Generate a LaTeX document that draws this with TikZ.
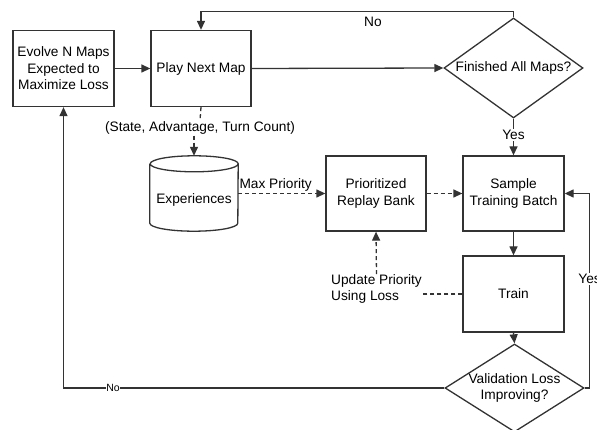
\documentclass[tikz,border=0pt]{standalone}
\usepackage{fontspec}
\setmainfont{Liberation Sans}
\usetikzlibrary{shapes.geometric,arrows.meta}
\definecolor{ln}{HTML}{333333}
\begin{document}
\begin{tikzpicture}[x=1pt,y=-1pt,
  font=\fontsize{13.7}{16.5}\selectfont,
  box/.style={draw=ln, line width=1.3pt, minimum width=101pt, minimum height=76pt, align=center, inner sep=0pt},
  dia/.style={draw=ln, line width=1.3pt, diamond, inner sep=0pt},
  plain/.style={draw=ln, line width=1.3pt},
  conn/.style={plain, -{Triangle[length=9pt,width=8pt]}},
  dsh/.style={dash pattern=on 4pt off 3pt},
  lbl/.style={fill=white, inner sep=1pt},
  small/.style={font=\fontsize{10.5}{12}\selectfont}]
\useasboundingbox (0,0) rectangle (597,430);

% nodes
\node[box] (evolve) at (63.5,68.5) {Evolve N Maps\\Expected to\\Maximize Loss};
\node[box, minimum width=100pt] (play) at (201,68.5) {Play Next Map};
\node[dia, minimum width=139pt, minimum height=100pt] (fin) at (513.5,68) {\makebox[0pt]{Finished All Maps?}};
\node[minimum width=88pt, minimum height=75pt, inner sep=0pt, text height=24pt, text depth=3pt] (exp) at (194,193.5) {Experiences};
\node[box, minimum width=100pt, minimum height=75pt] (replay) at (376,193.5) {Prioritized\\Replay Bank};
\node[box, minimum height=75pt] (sample) at (513.5,193.5) {Sample\\Training Batch};
\node[box] (train) at (513.5,294) {Train};
\node[dia, minimum width=139pt, minimum height=88pt] (val) at (514.5,388) {\makebox[0pt]{\begin{tabular}{@{}c@{}}Validation Loss\\[-1pt]Improving?\end{tabular}}};
\node[lbl] (sacl) at (200,128) {(State, Advantage, Turn Count)};
\node[align=left, inner sep=0pt] (upd) at (376.5,289) {Update Priority\\Using Loss};

% cylinder outline
\draw[plain] ([yshift=-8pt]exp.north west) -- ([yshift=8pt]exp.south west)
  arc[start angle=180, end angle=360, x radius=44pt, y radius=8pt]
  -- ([yshift=-8pt]exp.north east)
  arc[start angle=0, end angle=180, x radius=44pt, y radius=8pt]
  arc[start angle=180, end angle=360, x radius=44pt, y radius=8pt];

% connectors
\draw[conn] (evolve.east) -- (play.west);
\draw[conn] (play.east) -- (fin.west);
\draw[conn] (fin.north) -- ++(0,-6) -| node[pos=0.225, below=2pt]{No} (play.north);
\draw[conn] (fin.south) -- node[lbl, pos=0.45]{Yes} (sample.north);
\draw[plain, dsh] (play.south) -- (sacl.north);
\draw[conn, dsh] (sacl.south -| exp.north) -- (exp.north);
\draw[conn, dsh] (exp.east) -- node[above=1pt, pos=0.43, inner sep=1pt]{Max Priority} (replay.west);
\draw[conn, dsh] (replay.east) -- (sample.west);
\draw[conn] (sample.south) -- (train.north);
\draw[plain, dsh] (train.west) -- (train.west -| upd.east);
\draw[conn, dsh] (upd.north) -- (replay.south);
\draw[conn] (train.south) -- (val.north);
\draw[conn] (val.east) -- ++(5,0) |- node[pos=0.28, lbl]{Yes} (sample.east);
\draw[conn] (val.west) -| node[pos=0.435, lbl, small, inner sep=0.5pt]{No} (evolve.south);
\end{tikzpicture}
\end{document}
